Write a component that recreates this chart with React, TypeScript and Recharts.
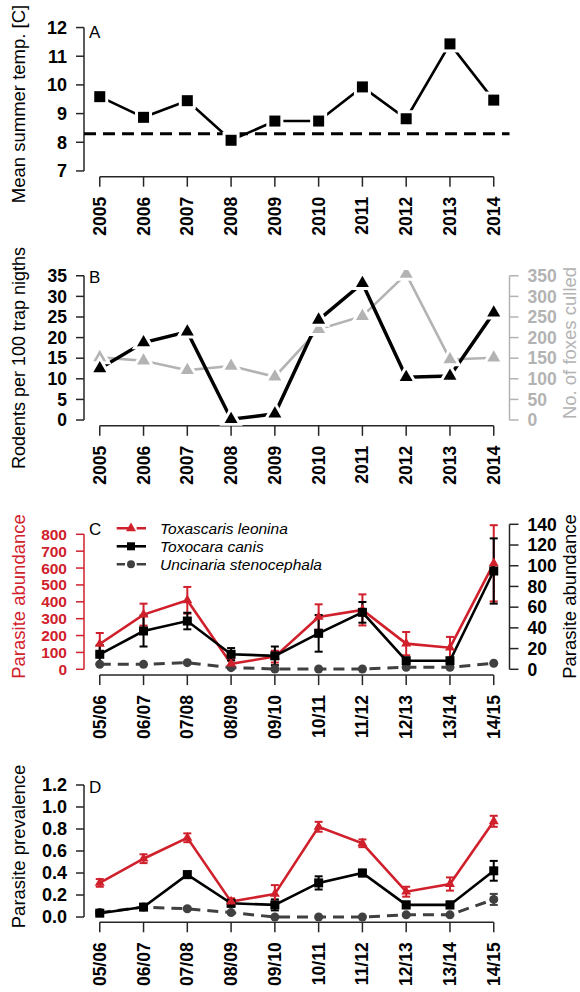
import React from "react";
import {
  LineChart,
  Line,
  XAxis,
  YAxis,
  ReferenceLine,
  ErrorBar,
  Legend,
} from "recharts";

const FONT = "'Liberation Sans', Arial, Helvetica, sans-serif";
const RED = "#d0202c";
const DARK = "#404040";
const LIGHT = "#b3b3b3";
const AXIS = "#262626";

// x categories
const years = ["2005", "2006", "2007", "2008", "2009", "2010", "2011", "2012", "2013", "2014"];
const seasons = ["05/06", "06/07", "07/08", "08/09", "09/10", "10/11", "11/12", "12/13", "13/14", "14/15"];

// A: mean summer temperature
const summerTemp = [9.59, 8.87, 9.45, 8.07, 8.74, 8.74, 9.93, 8.82, 11.43, 9.47];
const tempBaseline = 8.3;
const tempTicks = [7, 8, 9, 10, 11, 12];

// B: rodents and foxes
const rodents = [12.5, 18.8, 21.4, 0.2, 1.5, 24.3, 33.2, 10.4, 10.7, 26];
const foxesCulled = [152, 144, 121, 131, 105, 220, 252, 354, 147, 151];
const rodentTicks = [0, 5, 10, 15, 20, 25, 30, 35];
const foxTicks = [0, 50, 100, 150, 200, 250, 300, 350];

// C: parasite abundance
const leoninaAbund = [150, 324, 409, 33, 75, 310, 352, 152, 128, 628];
const leoninaAbundErr = [65, 65, 79, 25, 35, 75, 92, 69, 64, 226];
const canisAbund = [14.5, 37, 46.6, 14.5, 13, 34.7, 55, 8.3, 8.3, 94.9];
const canisAbundErr = [9, 15, 8, 6, 9, 17.7, 10, 2, 2, 31.5];
const uncinariaAbund = [4.8, 4.8, 6.4, 1.6, 0.3, 0.3, 0.3, 2, 2, 5.8];
const leftAbundTicks = [0, 100, 200, 300, 400, 500, 600, 700, 800];
const rightAbundTicks = [0, 20, 40, 60, 80, 100, 120, 140];

// D: parasite prevalence
const leoninaPrev = [0.31, 0.53, 0.72, 0.14, 0.21, 0.82, 0.67, 0.23, 0.3, 0.87];
const leoninaPrevErr = [0.035, 0.04, 0.04, 0.03, 0.08, 0.045, 0.035, 0.045, 0.06, 0.05];
const canisPrev = [0.035, 0.09, 0.385, 0.125, 0.11, 0.31, 0.4, 0.11, 0.11, 0.42];
const canisPrevErr = [0.015, 0.02, 0.03, 0.03, 0.05, 0.06, 0.03, 0.03, 0.03, 0.09];
const uncinariaPrev = [0.04, 0.09, 0.075, 0.04, 0, 0, 0, 0.02, 0.02, 0.16];
const uncinariaPrevErr = [0.01, 0.01, 0.01, 0.01, 0, 0, 0, 0.01, 0.01, 0.05];
const prevTicks = [0, 0.2, 0.4, 0.6, 0.8, 1.0, 1.2];

const species = ["Toxascaris leonina", "Toxocara canis", "Uncinaria stenocephala"];

const IDX = years.map((_, i) => i);
const X_DOMAIN = [-0.36, 9.36];

const tempData = IDX.map((i) => ({ i, temp: summerTemp[i] }));
const rodentData = IDX.map((i) => ({ i, rodents: rodents[i], foxes: foxesCulled[i] }));
const abundData = IDX.map((i) => ({
  i,
  leo: leoninaAbund[i],
  leoErr: leoninaAbundErr[i],
  can: canisAbund[i],
  canErr: canisAbundErr[i],
  unc: uncinariaAbund[i],
}));
const prevData = IDX.map((i) => ({
  i,
  leo: leoninaPrev[i],
  leoErr: leoninaPrevErr[i],
  can: canisPrev[i],
  canErr: canisPrevErr[i],
  unc: uncinariaPrev[i],
  uncErr: uncinariaPrevErr[i],
}));

/** Marker in the style of R's pch 15 / 16 / 17 */
function Marker({ shape, cx, cy, size, fill, halo }: any) {
  const haloProps = halo
    ? { stroke: "#fff", strokeWidth: 6, paintOrder: "stroke" as const }
    : { stroke: "none" };
  if (shape === "square") {
    return <rect x={cx - size / 2} y={cy - size / 2} width={size} height={size} fill={fill} {...haloProps} />;
  }
  if (shape === "triangle") {
    const h = (size * Math.sqrt(3)) / 2;
    const d = `M${cx},${cy - (2 * h) / 3} L${cx + size / 2},${cy + h / 3} L${cx - size / 2},${cy + h / 3} Z`;
    return <path d={d} fill={fill} {...haloProps} />;
  }
  return <circle cx={cx} cy={cy} r={size / 2} fill={fill} {...haloProps} />;
}

const dotOf = (shape: string, size: number, fill: string, halo = false) => (p: any) =>
  <Marker key={`m-${p.index}`} shape={shape} cx={p.cx} cy={p.cy} size={size} fill={fill} halo={halo} />;

function RotTick(props: any) {
  const { x, y, payload, labels } = props;
  return (
    <text
      x={x}
      y={y}
      transform={`rotate(-90 ${x} ${y})`}
      textAnchor="end"
      dominantBaseline="central"
      fontFamily={FONT}
      fontSize={17.5}
      fontWeight="bold"
      fill="#000"
    >
      {labels[payload.value]}
    </text>
  );
}

function VTitle({ text, tx, ty, color, size = 18.5 }: any) {
  return (
    <text
      x={tx}
      y={ty}
      transform={`rotate(-90 ${tx} ${ty})`}
      textAnchor="middle"
      dominantBaseline="central"
      fontFamily={FONT}
      fontSize={size}
      fill={color}
    >
      {text}
    </text>
  );
}

function PanelLetter({ text, tx, ty }: any) {
  return (
    <text x={tx} y={ty} fontFamily={FONT} fontSize={17} fill="#000">
      {text}
    </text>
  );
}

const tickStyle = (fill: string, size = 18) => ({ fill, fontSize: size, fontWeight: "bold", fontFamily: FONT });
const tickLine = (stroke: string) => ({ stroke, strokeWidth: 1.5 });

function xAxisFor(labels: string[], letter: string, ty: number) {
  return (
    <XAxis
      type="number"
      dataKey="i"
      domain={X_DOMAIN}
      ticks={IDX}
      interval={0}
      allowDataOverflow
      axisLine={false}
      tickLine={tickLine(AXIS)}
      tickSize={10}
      tickMargin={10}
      height={60}
      tick={<RotTick labels={labels} />}
      label={<PanelLetter text={letter} tx={89} ty={ty} />}
    />
  );
}

function axisSeg(x1: number, y1: number, x2: number, y2: number, stroke: string, yAxisId: string = "l") {
  return (
    <ReferenceLine
      yAxisId={yAxisId}
      segment={[{ x: x1, y: y1 }, { x: x2, y: y2 }]}
      stroke={stroke}
      strokeWidth={1.5}
      ifOverflow="visible"
    />
  );
}

function PanelA() {
  return (
    <LineChart width={580} height={250} data={tempData} margin={{ top: 21.8, right: 70.5, bottom: 13.3, left: 24 }}>
      {xAxisFor(years, "A", 37.5)}
      <YAxis
        yAxisId="l"
        width={60}
        domain={[6.8, 12.2]}
        ticks={tempTicks}
        interval={0}
        allowDataOverflow
        axisLine={false}
        tickLine={tickLine(AXIS)}
        tickSize={8}
        tickMargin={9}
        tick={tickStyle("#000")}
        label={<VTitle text="Mean summer temp. [C]" tx={18.5} ty={104} color="#000" />}
      />
      {axisSeg(0, 6.8, 9, 6.8, AXIS)}
      {axisSeg(X_DOMAIN[0], 7, X_DOMAIN[0], 12, AXIS)}
      <ReferenceLine yAxisId="l" y={tempBaseline} stroke="#000" strokeWidth={3} strokeDasharray="12 7" />
      <Line
        yAxisId="l"
        dataKey="temp"
        stroke="#000"
        strokeWidth={2.6}
        dot={dotOf("square", 11, "#000", true)}
        activeDot={false}
        isAnimationActive={false}
      />
    </LineChart>
  );
}

// panel B starts higher than its neighbour so that its long title fits
function PanelB() {
  return (
    <LineChart width={580} height={265} data={rodentData} margin={{ top: 35, right: 10.5, bottom: 14.2, left: 24 }}>
      {xAxisFor(years, "B", 48.3)}
      <YAxis
        yAxisId="l"
        width={60}
        domain={[-1.4, 36.4]}
        ticks={rodentTicks}
        interval={0}
        allowDataOverflow
        axisLine={false}
        tickLine={tickLine(AXIS)}
        tickSize={8}
        tickMargin={9}
        tick={tickStyle("#000", 17.5)}
        label={<VTitle text="Rodents per 100 trap nigths" tx={18.5} ty={123} size={18} color="#000" />}
      />
      <YAxis
        yAxisId="r"
        orientation="right"
        width={60}
        domain={[-14, 364]}
        ticks={foxTicks}
        interval={0}
        allowDataOverflow
        axisLine={false}
        tickLine={tickLine(LIGHT)}
        tickSize={9}
        tickMargin={9}
        tick={tickStyle(LIGHT, 17.5)}
        label={<VTitle text="No. of foxes culled" tx={569} ty={108} color={LIGHT} />}
      />
      {axisSeg(0, -1.4, 9, -1.4, AXIS)}
      {axisSeg(X_DOMAIN[0], 0, X_DOMAIN[0], 35, AXIS)}
      {axisSeg(X_DOMAIN[1], 0, X_DOMAIN[1], 350, LIGHT, "r")}
      <Line
        yAxisId="r"
        dataKey="foxes"
        stroke={LIGHT}
        strokeWidth={2.6}
        dot={dotOf("triangle", 13, LIGHT, true)}
        activeDot={false}
        isAnimationActive={false}
      />
      <Line
        yAxisId="l"
        dataKey="rodents"
        stroke="#000"
        strokeWidth={3.5}
        dot={dotOf("triangle", 13, "#000", true)}
        activeDot={false}
        isAnimationActive={false}
      />
    </LineChart>
  );
}

const legendStyles = [
  { color: RED, shape: "triangle", dash: "14 6 10" },
  { color: "#000", shape: "square", dash: undefined },
  { color: DARK, shape: "circle", dash: "8.3 11.7 10" },
];

function SpeciesLegend() {
  return (
    <svg width={400} height={80}>
      {species.map((name, k) => {
        const st = legendStyles[k];
        const y = 28.3 + k * 18;
        return (
          <g key={name}>
            <line x1={116.7} x2={146} y1={y} y2={y} stroke={st.color} strokeWidth={2.6} strokeDasharray={st.dash} />
            <Marker shape={st.shape} cx={131} cy={y} size={st.shape === "triangle" ? 10 : 8} fill={st.color} />
            <text x={160} y={y + 5.5} fontFamily={FONT} fontSize={15.5} fontStyle="italic" fill="#000">
              {name}
            </text>
          </g>
        );
      })}
    </svg>
  );
}

function PanelC() {
  return (
    <LineChart width={580} height={250} data={abundData} margin={{ top: 18.5, right: 10.5, bottom: 14.9, left: 24 }}>
      {xAxisFor(seasons, "C", 35)}
      <YAxis
        yAxisId="l"
        width={60}
        domain={[-34.4, 893.6]}
        ticks={leftAbundTicks}
        interval={0}
        allowDataOverflow
        axisLine={false}
        tickLine={tickLine(RED)}
        tickSize={8}
        tickMargin={9}
        tick={tickStyle(RED, 15.5)}
        label={<VTitle text="Parasite abundance" tx={18.5} ty={96.5} color={RED} />}
      />
      <YAxis
        yAxisId="r"
        orientation="right"
        width={60}
        domain={[-5.6, 145.6]}
        ticks={rightAbundTicks}
        interval={0}
        allowDataOverflow
        axisLine={false}
        tickLine={tickLine(AXIS)}
        tickSize={9}
        tickMargin={9}
        tick={tickStyle("#000", 17.5)}
        label={<VTitle text="Parasite abundance" tx={569} ty={96.5} color="#000" />}
      />
      {axisSeg(0, -34.4, 9, -34.4, AXIS)}
      {axisSeg(X_DOMAIN[0], 0, X_DOMAIN[0], 800, RED)}
      {axisSeg(X_DOMAIN[1], 0, X_DOMAIN[1], 140, AXIS, "r")}
      <Legend
        layout="vertical"
        align="center"
        verticalAlign="middle"
        content={() => <SpeciesLegend />}
        wrapperStyle={{ left: 0, top: 0, width: 400, height: 80 }}
      />
      <Line
        yAxisId="r"
        dataKey="unc"
        name={species[2]}
        stroke={DARK}
        strokeWidth={3}
        strokeDasharray="11 7"
        dot={dotOf("circle", 9, DARK)}
        activeDot={false}
        isAnimationActive={false}
      />
      <Line
        yAxisId="l"
        dataKey="leo"
        name={species[0]}
        stroke={RED}
        strokeWidth={2.6}
        dot={dotOf("triangle", 10, RED)}
        activeDot={false}
        isAnimationActive={false}
      >
        <ErrorBar dataKey="leoErr" width={4} strokeWidth={2} stroke={RED} direction="y" />
      </Line>
      <Line
        yAxisId="r"
        dataKey="can"
        name={species[1]}
        stroke="#000"
        strokeWidth={2.6}
        dot={dotOf("square", 9, "#000")}
        activeDot={false}
        isAnimationActive={false}
      >
        <ErrorBar dataKey="canErr" width={4} strokeWidth={2} stroke="#000" direction="y" />
      </Line>
    </LineChart>
  );
}

function PanelD() {
  return (
    <LineChart width={580} height={242} data={prevData} margin={{ top: 29.7, right: 70.5, bottom: 9.7, left: 24 }}>
      {xAxisFor(seasons, "D", 43.3)}
      <YAxis
        yAxisId="l"
        width={60}
        domain={[-0.048, 1.248]}
        ticks={prevTicks}
        interval={0}
        tickFormatter={(v: number) => v.toFixed(1)}
        allowDataOverflow
        axisLine={false}
        tickLine={tickLine(AXIS)}
        tickSize={8}
        tickMargin={9}
        tick={tickStyle("#000")}
        label={<VTitle text="Parasite prevalence" tx={18.5} ty={96.5} color="#000" />}
      />
      {axisSeg(0, -0.048, 9, -0.048, AXIS)}
      {axisSeg(X_DOMAIN[0], 0, X_DOMAIN[0], 1.2, AXIS)}
      <Line
        yAxisId="l"
        dataKey="unc"
        stroke={DARK}
        strokeWidth={3}
        strokeDasharray="11 7"
        dot={dotOf("circle", 9, DARK)}
        activeDot={false}
        isAnimationActive={false}
      >
        <ErrorBar dataKey="uncErr" width={4} strokeWidth={2} stroke={DARK} direction="y" />
      </Line>
      <Line
        yAxisId="l"
        dataKey="can"
        stroke="#000"
        strokeWidth={2.6}
        dot={dotOf("square", 9, "#000")}
        activeDot={false}
        isAnimationActive={false}
      >
        <ErrorBar dataKey="canErr" width={4} strokeWidth={2} stroke="#000" direction="y" />
      </Line>
      <Line
        yAxisId="l"
        dataKey="leo"
        stroke={RED}
        strokeWidth={2.6}
        dot={dotOf("triangle", 10, RED)}
        activeDot={false}
        isAnimationActive={false}
      >
        <ErrorBar dataKey="leoErr" width={4} strokeWidth={2} stroke={RED} direction="y" />
      </Line>
    </LineChart>
  );
}

export default function App() {
  return (
    <div style={{ position: "absolute", left: 0, top: 0, width: 580, height: 992, background: "#fff" }}>
      <div style={{ position: "absolute", left: 0, top: 0 }}>
        <PanelA />
      </div>
      <div style={{ position: "absolute", left: 0, top: 235 }}>
        <PanelB />
      </div>
      <div style={{ position: "absolute", left: 0, top: 500 }}>
        <PanelC />
      </div>
      <div style={{ position: "absolute", left: 0, top: 750 }}>
        <PanelD />
      </div>
    </div>
  );
}
